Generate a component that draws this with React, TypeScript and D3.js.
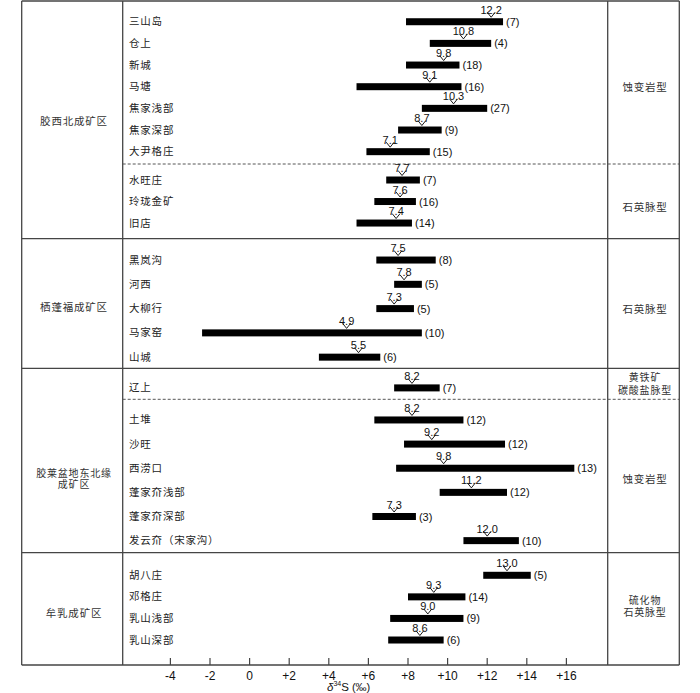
import React from "react";
import * as d3 from "d3";

// ---------- DATA ----------
const groupNames = ["胶西北成矿区", "栖蓬福成矿区", "胶莱盆地东北缘\n成矿区", "牟乳成矿区"];
const typeNames = ["蚀变岩型", "石英脉型", "石英脉型", "黄铁矿\n碳酸盐脉型", "蚀变岩型", "硫化物\n石英脉型"];
const sectionGroup = [0, 0, 1, 2, 2, 3];

const deposits = [
  "三山岛", "仓上", "新城", "马塘", "焦家浅部", "焦家深部", "大尹格庄",
  "水旺庄", "玲珑金矿", "旧店",
  "黑岚沟", "河西", "大柳行", "马家窑", "山城",
  "辽上",
  "土堆", "沙旺", "西涝口", "蓬家夼浅部", "蓬家夼深部", "发云夼（宋家沟）",
  "胡八庄", "邓格庄", "乳山浅部", "乳山深部",
];
const depositSection = [0, 0, 0, 0, 0, 0, 0, 1, 1, 1, 2, 2, 2, 2, 2, 3, 4, 4, 4, 4, 4, 4, 5, 5, 5, 5];
const minValues = [7.9, 9.1, 7.9, 5.4, 8.7, 7.5, 5.9, 6.9, 6.3, 5.4, 6.4, 7.3, 6.4, -2.4, 3.5, 7.3, 6.3, 7.8, 7.4, 9.6, 6.2, 10.8, 11.8, 8.0, 7.1, 7.0];
const maxValues = [12.8, 12.2, 10.6, 10.7, 12.0, 9.7, 9.1, 8.6, 8.4, 8.2, 9.4, 8.7, 8.3, 8.7, 6.6, 9.6, 10.8, 12.9, 16.4, 13.0, 8.4, 13.6, 14.2, 10.9, 10.8, 9.8];
const meanValues = [12.2, 10.8, 9.8, 9.1, 10.3, 8.7, 7.1, 7.7, 7.6, 7.4, 7.5, 7.8, 7.3, 4.9, 5.5, 8.2, 8.2, 9.2, 9.8, 11.2, 7.3, 12.0, 13.0, 9.3, 9.0, 8.6];
const counts = [7, 4, 18, 16, 27, 9, 15, 7, 16, 14, 8, 5, 5, 10, 6, 7, 12, 12, 13, 12, 3, 10, 5, 14, 9, 6];

const xTicks = [-4, -2, 0, 2, 4, 6, 8, 10, 12, 14, 16];
const xTickLabels = ["-4", "-2", "0", "+2", "+4", "+6", "+8", "+10", "+12", "+14", "+16"];

// ---------- LAYOUT ----------
const W = 700, H = 693;
const colX = { left: 21.7, name: 122.7, type: 607.7, right: 679.3 };
const axisY = 665;
const topY = 1;
const sections = [
  { top: 1, bottom: 164, padTop: 9.9, padBottom: 1.5, dashedBottom: true, typeDy: 4 },
  { top: 164, bottom: 238.7, padTop: 5.25, padBottom: 4.9, dashedBottom: false, typeDy: 5 },
  { top: 238.7, bottom: 368.3, padTop: 9.2, padBottom: -1, dashedBottom: false, typeDy: 5 },
  { top: 368.3, bottom: 399.3, padTop: 8.2, padBottom: 0, dashedBottom: true, typeDy: -0.5 },
  { top: 399.3, bottom: 552.7, padTop: 8.6, padBottom: 0, dashedBottom: false, typeDy: 2 },
  { top: 553, bottom: 665, padTop: 11.5, padBottom: 14.2, dashedBottom: false, typeDy: -3.5 },
];
const groupLabelCenter = [
  (s: any[]) => (s[0].top + s[1].bottom) / 2 + 1,
  (s: any[]) => (s[2].top + s[2].bottom) / 2 + 3,
  (s: any[]) => (s[4].top + s[4].bottom) / 2 + 2,
  (s: any[]) => (s[5].top + s[5].bottom) / 2 + 3.5,
];
const BAR_H = 7;
const CJK = "'Noto Sans CJK SC', sans-serif";
const LATIN = "'Liberation Sans', Arial, sans-serif";
const LINE = "#454545";

export default function App() {
  const x = d3.scaleLinear().domain([-4, 16]).range([170.4, 566.4]);

  const yCenter: number[] = new Array(deposits.length);
  sections.forEach((s, si) => {
    const names = deposits.filter((_, i) => depositSection[i] === si);
    const band = d3.scaleBand<string>().domain(names).range([s.top + s.padTop, s.bottom - s.padBottom]);
    deposits.forEach((d, i) => {
      if (depositSection[i] === si) yCenter[i] = (band(d) as number) + band.bandwidth() / 2;
    });
  });

  const groupBoundaries = [topY];
  sections.forEach((s, si) => {
    if (si < sections.length - 1 && sectionGroup[si + 1] !== sectionGroup[si]) groupBoundaries.push(s.bottom);
  });
  groupBoundaries.push(axisY);

  const multiline = (label: string, cx: number, cy: number, lh: number, key: string) => {
    const lines = label.split("\n");
    return (
      <text key={key} x={cx} textAnchor="middle" fontFamily={CJK} fontSize={lines.length > 1 ? 10 : 10.5} letterSpacing={0.8} fill="#333">
        {lines.map((ln, k) => (
          <tspan key={k} x={cx} y={cy + (k - (lines.length - 1) / 2) * lh} dominantBaseline="central">{ln}</tspan>
        ))}
      </text>
    );
  };

  return (
    <svg width={W} height={H} style={{ position: "absolute", left: 0, top: 0, background: "#fff" }}>
      {[colX.left, colX.name, colX.type, colX.right].map((cx, i) => (
        <line key={"v" + i} x1={cx} x2={cx} y1={topY} y2={axisY} stroke={LINE} strokeWidth={1.3} />
      ))}
      {groupBoundaries.map((gy, i) => (
        <line key={"h" + i} x1={colX.left} x2={colX.right} y1={gy} y2={gy} stroke={LINE} strokeWidth={1.3} />
      ))}
      {sections.filter((s) => s.dashedBottom).map((s, i) => (
        <line key={"d" + i} x1={colX.name} x2={colX.right} y1={s.bottom} y2={s.bottom} stroke="#555" strokeWidth={1} strokeDasharray="3,2" />
      ))}

      {groupNames.map((g, i) => multiline(g, 74, groupLabelCenter[i](sections), 11, "g" + i))}

      {typeNames.map((t, i) => {
        const s = sections[i];
        return multiline(t, 645, (s.top + s.bottom) / 2 + s.typeDy, i === 3 ? 13 : 11.5, "t" + i);
      })}

      {deposits.map((d, i) => (
        <text key={"n" + i} x={129} y={yCenter[i] - 1} dominantBaseline="central" fontFamily={CJK} fontSize={10.5} letterSpacing={0.8} fill="#222">
          {d}
        </text>
      ))}

      {deposits.map((d, i) => {
        const yc = yCenter[i];
        const top = yc - BAR_H / 2;
        const mx = x(meanValues[i]);
        return (
          <g key={"b" + i}>
            <rect x={x(minValues[i])} y={top} width={x(maxValues[i]) - x(minValues[i])} height={BAR_H} fill="#000" />
            <path d={`M${mx - 4},${top - 6}L${mx},${top - 1}L${mx + 4},${top - 6}`} fill="none" stroke="#000" strokeWidth={0.9} />
            <text x={mx} y={top - 4.5} textAnchor="middle" fontFamily={LATIN} fontSize={11} fill="#111">
              {meanValues[i].toFixed(1)}
            </text>
            <text x={x(maxValues[i]) + 3} y={yc} dominantBaseline="central" fontFamily={LATIN} fontSize={11} fill="#111">
              ({counts[i]})
            </text>
          </g>
        );
      })}

      {xTicks.map((t, i) => (
        <g key={"x" + i}>
          <line x1={x(t)} x2={x(t)} y1={axisY - 7} y2={axisY} stroke={LINE} strokeWidth={1.2} />
          <text x={x(t)} y={679.5} textAnchor="middle" fontFamily={LATIN} fontSize={12} fill="#111">
            {xTickLabels[i]}
          </text>
        </g>
      ))}
      <text x={327} y={690.5} fontFamily={LATIN} fontSize={11.5} fill="#111">
        <tspan fontStyle="italic">δ</tspan>
        <tspan fontSize={7} dy={-5}>34</tspan>
        <tspan dy={5}>S</tspan>
        <tspan fontSize={11}> (‰)</tspan>
      </text>
    </svg>
  );
}
